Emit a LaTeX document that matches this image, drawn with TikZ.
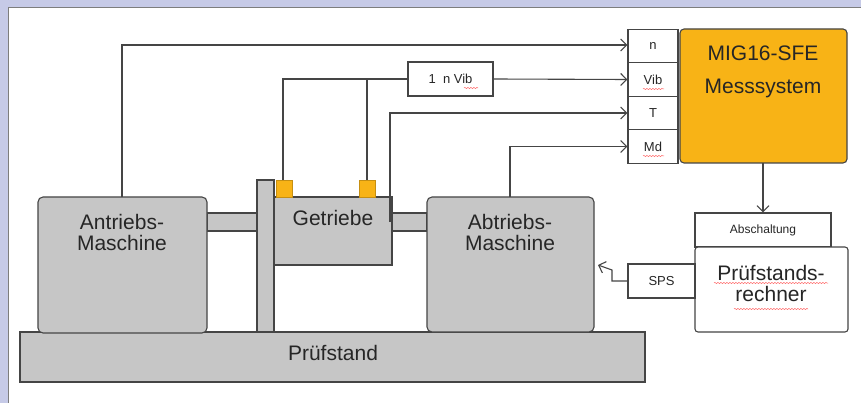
\documentclass[tikz,border=0pt]{standalone}
\usepackage{fontspec}
\setmainfont{Liberation Sans}
\usetikzlibrary{arrows.meta,decorations.pathmorphing}
\definecolor{lav}{HTML}{C6CAE7}
\definecolor{grayfill}{HTML}{C6C6C6}
\definecolor{orng}{HTML}{F8B316}
\definecolor{ln}{HTML}{454545}
\tikzset{
  part/.style={draw=ln, fill=grayfill, line width=1.1pt},
  rpart/.style={part, rounded corners=5pt},
  sensor/.style={draw=orng!80!black, fill=orng, line width=0.5pt},
  plain/.style={draw=ln, fill=white, line width=1.1pt},
  wire/.style={draw=ln, line width=1.1pt},
  arr/.style={wire, -{Straight Barb[length=6pt,width=12pt]}},
  big/.style={font=\fontsize{21}{24}\selectfont, text=black!85},
  small/.style={font=\fontsize{13}{15}\selectfont, text=black!85},
  squig/.style={draw=red!60, line width=0.5pt, decorate, decoration={snake, amplitude=0.6pt, segment length=3pt}}
}
\begin{document}
\begin{tikzpicture}[x=1pt,y=-1pt]
\useasboundingbox (0,0) rectangle (861,403);
\fill[lav] (0,0) rectangle (861,403);
\fill[white] (8,8) rectangle (861,403);
\draw[ln!70, line width=1pt] (8,403) -- (8,8) -- (861,8);

% test stand
\draw[part] (20,332) rectangle (645,382);
\node[big] (pst) at (333,353) {Prüfstand};
% column
\draw[part] (257,180) rectangle (274,332);
% shafts
\draw[part] (207,213) rectangle (257,231);
\draw[part] (392,213) rectangle (427,231);
% machines
\draw[rpart] (38,197) rectangle (207,333);
\node[big, align=center] (antr) at (122,232) {Antriebs-\\[-3pt]Maschine};
\coordinate (antrTop) at (122,197);
\draw[rpart] (427,197) rectangle (594,332);
\node[big, align=center] (abtr) at (510,232) {Abtriebs-\\[-3pt]Maschine};
\coordinate (abtrTop) at (510,197);
\coordinate (abtrRight) at (598,265);
% gearbox
\draw[part] (274,197) rectangle (392,265);
\node[big] (getr) at (333,218) {Getriebe};
% sensors
\draw[sensor] (276,180) rectangle (292,197);
\draw[sensor] (359,180) rectangle (375,197);
\coordinate (s1) at (283,180);
\coordinate (s2) at (367,180);
\coordinate (tsens) at (390,222);

% measurement inputs
\node[plain, minimum width=50pt, minimum height=33.5pt, inner sep=0pt, small] (n) at (653,46) {n};
\node[plain, minimum width=50pt, minimum height=33.5pt, inner sep=0pt, small] (vib) at (653,79.5) {Vib};
\node[plain, minimum width=50pt, minimum height=33.5pt, inner sep=0pt, small] (T) at (653,113) {T};
\node[plain, minimum width=50pt, minimum height=33.5pt, inner sep=0pt, small] (md) at (653,146.5) {Md};
\draw[squig] (643,89) -- (664,89);
\draw[squig] (643,156) -- (664,156);
% MIG box
\draw[draw=ln, fill=orng, line width=1.1pt, rounded corners=4pt] (680,29) rectangle (847,163);
\node[big] (mig) at (763,53) {MIG16-SFE};
\node[big] (mess) at (763,88) {Messsystem};
\coordinate (migBot) at (763,163);

% 1 n Vib box
\node[plain, minimum width=85pt, minimum height=34pt, inner sep=0pt, small] (nvib) at (450.5,79) {1 \ n Vib};
\draw[squig] (464,88) -- (478,88);

% connectors
\draw[arr] (antrTop) -- (122,45) -- (n.west |- 0,45);
\draw[wire] (s1) -- (283,79) -- (nvib.west);
\draw[wire] (s2) -- (367,79);
\draw[arr] (nvib.east) -- (vib.west);
\draw[arr] (tsens) -- (390,113) -- (T.west);
\draw[arr] (abtrTop) -- (510,146.5) -- (md.west);

% Abschaltung / Pruefstandsrechner
\node[plain, minimum width=136pt, minimum height=34pt, inner sep=0pt, font=\fontsize{12}{14}\selectfont, text=black!85] (absch) at (763,230) {Abschaltung};
\draw[draw=ln, fill=white, line width=1.1pt, rounded corners=3pt] (695,247) rectangle (848,332);
\node[big, align=center] (pr) at (771,283) {Prüfstands-\\[-3pt]rechner};
\draw[squig] (714,283) -- (828,283);
\draw[squig] (734,309) -- (808,309);
\coordinate (prWest) at (695,281);
\draw[arr] (migBot) -- (absch.north);

% SPS
\node[plain, minimum width=67pt, minimum height=34pt, inner sep=0pt, small] (sps) at (661.5,281) {SPS};
\draw[arr] (sps.west) -- (612,281) -- (612,270) -- (abtrRight);
\end{tikzpicture}
\end{document}
